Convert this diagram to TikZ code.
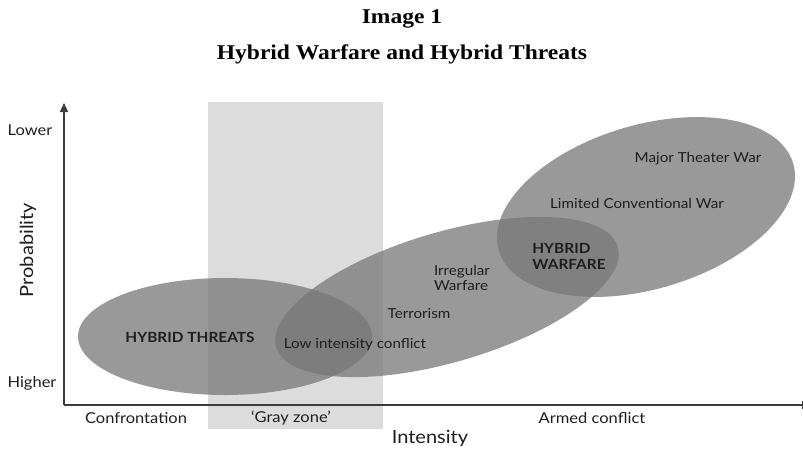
\documentclass[tikz,border=0pt]{standalone}
\usepackage{fontspec}
\setmainfont{Lato}[FakeStretch=1.1]
\newfontfamily\titlefont{Liberation Serif}[FakeStretch=1.12]
\usetikzlibrary{shapes.geometric,arrows.meta}
\definecolor{zonegray}{RGB}{220,220,220}
\definecolor{blobgray}{RGB}{120,120,120}
\definecolor{axisgray}{RGB}{60,60,60}
\definecolor{txt}{RGB}{30,30,30}
\tikzset{
  blob/.style={ellipse, draw=none, fill=blobgray, fill opacity=0.755, inner sep=0pt},
  lab/.style={text=txt, inner sep=0pt, font=\fontsize{13.8}{15}\selectfont},
  boldlab/.style={text=txt, inner sep=0pt, font=\fontsize{14}{16}\selectfont\bfseries},
  axlab/.style={text=txt, inner sep=0pt, font=\fontsize{15}{17}\selectfont},
  axtitle/.style={text=txt, inner sep=0pt, font=\fontsize{18.2}{20}\selectfont},
  axline/.style={draw=axisgray, line width=1.1pt},
  ttl/.style={inner sep=0pt, font=\titlefont\fontsize{21}{23}\selectfont\bfseries}
}
\begin{document}
\begin{tikzpicture}[x=1pt,y=-1pt]
\useasboundingbox (0,0) rectangle (803,450);
% title
\node[ttl] (t1) at (402,19) {Image 1};
\node[ttl] (t2) at (402,54) {Hybrid Warfare and Hybrid Threats};
% gray zone
\node[draw=none, fill=zonegray, inner sep=0pt, minimum width=175pt, minimum height=327pt] (zone) at (295.5,265.5) {};
% axes
\coordinate (o) at (64,405);
\coordinate (ytip) at (64,103);
\coordinate (xtip) at (811,405);
\draw[axline, -{Triangle[length=9pt,width=8pt]}] (o) -- (ytip);
\draw[axline, -{Triangle[length=9pt,width=8pt]}] (o) -- (xtip);
% ellipses
\node[blob, minimum width=294pt, minimum height=117pt] (threats) at (225,336.5) {};
\node[blob, minimum width=356pt, minimum height=130pt, rotate=16.4] (mid) at (447,297) {};
\node[blob, minimum width=307pt, minimum height=164pt, rotate=16.5] (big) at (646,207) {};
% axis labels
\node[axlab] (lower) at (30,130) {Lower};
\node[axlab] (higher) at (32,383) {Higher};
\node[axtitle, rotate=90] (prob) at (28,250) {Probability};
\node[axlab] (conf) at (136,418) {Confrontation};
\node[axlab] (gz) at (291,418) {‘Gray zone’};
\node[axlab] (armed) at (592,418) {Armed conflict};
\node[axtitle] (int) at (430,438) {Intensity};
% interior labels
\node[boldlab] (ht) at (190,337) {HYBRID THREATS};
\node[lab] (lic) at (355,345) {Low intensity conflict};
\node[lab] (ter) at (419,314) {Terrorism};
\node[lab, align=left] (iw) at (462,278) {Irregular\\Warfare};
\node[boldlab, align=left] (hw) at (569,256) {HYBRID\\WARFARE};
\node[lab] (lcw) at (637,203) {Limited Conventional War};
\node[lab] (mtw) at (698,159) {Major Theater War};
\end{tikzpicture}
\end{document}
